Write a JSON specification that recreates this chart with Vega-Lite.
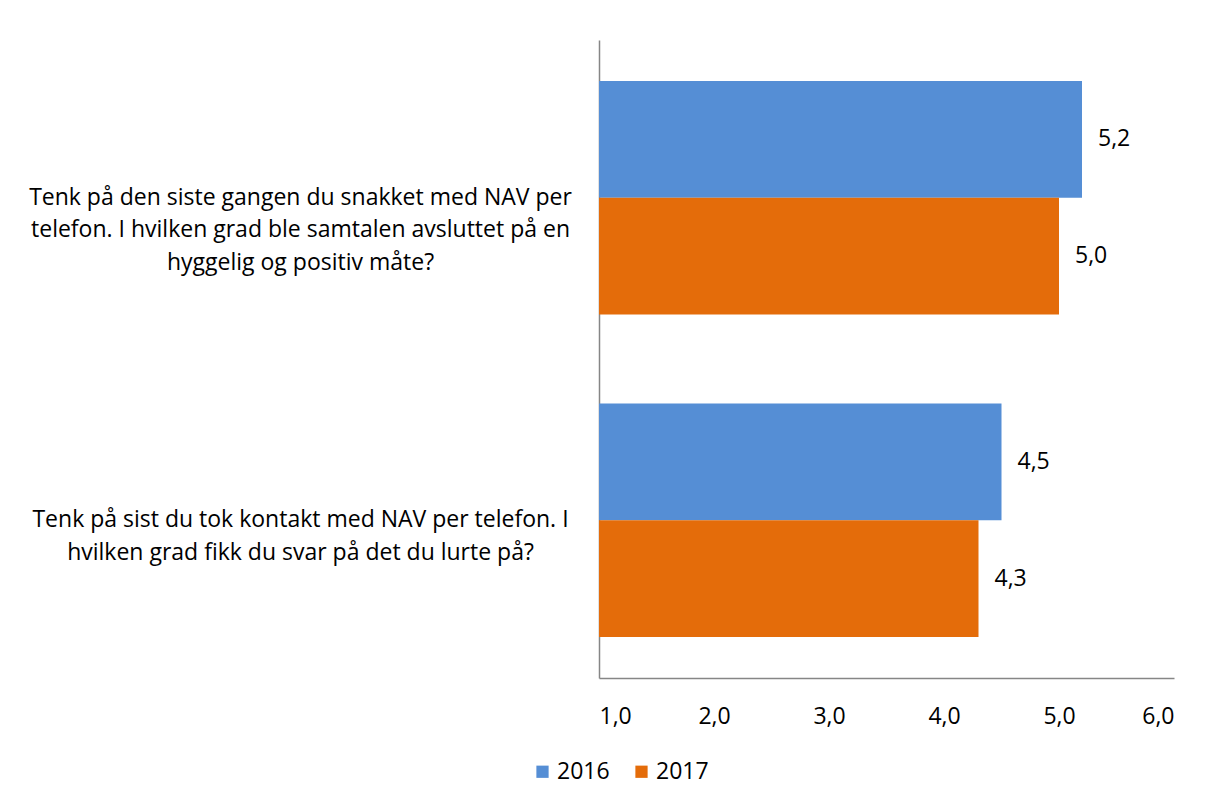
{
  "$schema": "https://vega.github.io/schema/vega-lite/v6.json",
  "width": 575,
  "height": 638,
  "autosize": {"type": "none"},
  "padding": {"left": 599, "top": 40, "right": 40, "bottom": 127},
  "background": "white",
  "config": {
    "locale": {"number": {"decimal": ",", "thousands": " ", "grouping": [3], "currency": ["", " kr"]}},
    "view": {"stroke": null},
    "font": "Open Sans",
    "axis": {"labelFont": "Open Sans", "labelColor": "#000000", "labelFontSize": 23, "domainColor": "#868686", "domainWidth": 1.5, "ticks": false, "grid": false, "title": null}
  },
  "data": {
    "values": [
      {"q": "Tenk på den siste gangen du snakket med NAV per|telefon. I hvilken grad ble samtalen avsluttet på en|hyggelig og positiv måte?", "year": "2016", "value": 5.2},
      {"q": "Tenk på den siste gangen du snakket med NAV per|telefon. I hvilken grad ble samtalen avsluttet på en|hyggelig og positiv måte?", "year": "2017", "value": 5.0},
      {"q": "Tenk på sist du tok kontakt med NAV per telefon. I|hvilken grad fikk du svar på det du lurte på?", "year": "2016", "value": 4.5},
      {"q": "Tenk på sist du tok kontakt med NAV per telefon. I|hvilken grad fikk du svar på det du lurte på?", "year": "2017", "value": 4.3}
    ]
  },
  "encoding": {
    "y": {
      "field": "q", "type": "nominal", "sort": null,
      "scale": {"paddingInner": 0.276, "paddingOuter": 0.127},
      "axis": {"labelExpr": "split(datum.label, '|')", "labelAlign": "center", "labelBaseline": "middle", "labelPadding": 299, "labelLimit": 700, "labelLineHeight": 32.5}
    },
    "yOffset": {"field": "year", "type": "nominal", "scale": {"paddingInner": 0, "paddingOuter": 0}},
    "x": {
      "field": "value", "type": "quantitative",
      "scale": {"domain": [1, 6], "nice": false, "zero": false, "clamp": true},
      "axis": {"values": [1, 2, 3, 4, 5, 6], "format": ".1f", "labelPadding": 27}
    }
  },
  "layer": [
    {
      "mark": {"type": "bar"},
      "encoding": {
        "color": {
          "field": "year", "type": "nominal",
          "scale": {"domain": ["2016", "2017"], "range": ["#558ED5", "#E46C0A"]},
          "legend": {"title": null, "orient": "none", "legendX": -68, "legendY": 720, "direction": "horizontal", "symbolType": "square", "symbolSize": 150, "symbolStrokeWidth": 0, "labelFontSize": 23, "labelFont": "Open Sans", "labelColor": "#000000", "labelOffset": 3, "columnPadding": 20}
        }
      }
    },
    {
      "mark": {"type": "text", "align": "left", "baseline": "middle", "dx": 16, "fontSize": 23, "font": "Open Sans", "color": "#000000"},
      "encoding": {"text": {"field": "value", "type": "quantitative", "format": ".1f"}}
    }
  ]
}
